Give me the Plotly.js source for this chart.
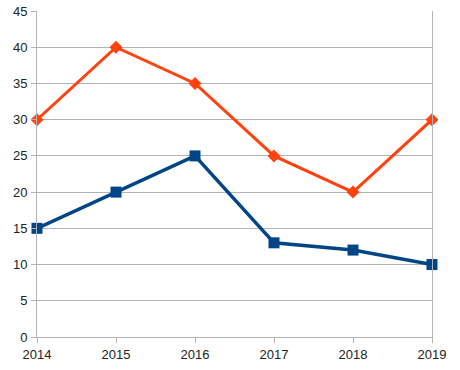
<!DOCTYPE html>
<html><head><meta charset="utf-8">
<script src="https://cdn.plot.ly/plotly-3.0.1.min.js"></script>
<style>html,body{margin:0;padding:0;background:#fff}#c{width:460px;height:370px}</style>
</head><body><div id="c"></div>
<script>
const years = [2014, 2015, 2016, 2017, 2018, 2019];
const orangeSeries = [30, 40, 35, 25, 20, 30];
const blueSeries = [15, 20, 25, 13, 12, 10];
const yTicks = [0, 5, 10, 15, 20, 25, 30, 35, 40, 45];

const traces = [
  {x: years, y: blueSeries, type: 'scatter', mode: 'lines+markers',
   line: {color: '#004586', width: 3.5}, marker: {symbol: 'square', size: 11, color: '#004586'}, cliponaxis: false},
  {x: years, y: orangeSeries, type: 'scatter', mode: 'lines+markers',
   line: {color: '#ff420e', width: 3}, marker: {symbol: 'diamond', size: 10, color: '#ff420e'}, cliponaxis: false}
];
const layout = {
  width: 460, height: 370,
  margin: {l: 37, r: 28, t: 11, b: 33, pad: 0},
  showlegend: false,
  paper_bgcolor: '#fff', plot_bgcolor: '#fff',
  font: {family: 'Liberation Sans, Arial, sans-serif', size: 13, color: '#222'},
  xaxis: {type: 'linear', range: [2014, 2019], tickvals: years, ticktext: years.map(String),
          showgrid: false, zeroline: false, showline: true, linecolor: '#b3b3b3', linewidth: 1,
          ticks: 'outside', ticklen: 5, tickcolor: '#b3b3b3', fixedrange: true},
  yaxis: {range: [0, 45], tickvals: yTicks, showgrid: true, gridcolor: '#b3b3b3', gridwidth: 1,
          zeroline: false, showline: true, mirror: true, linecolor: '#b3b3b3', linewidth: 1,
          ticks: 'outside', ticklen: 5, tickcolor: '#b3b3b3', ticklabelstandoff: 1}
};
Plotly.newPlot('c', traces, layout, {staticPlot: true});
</script></body></html>
